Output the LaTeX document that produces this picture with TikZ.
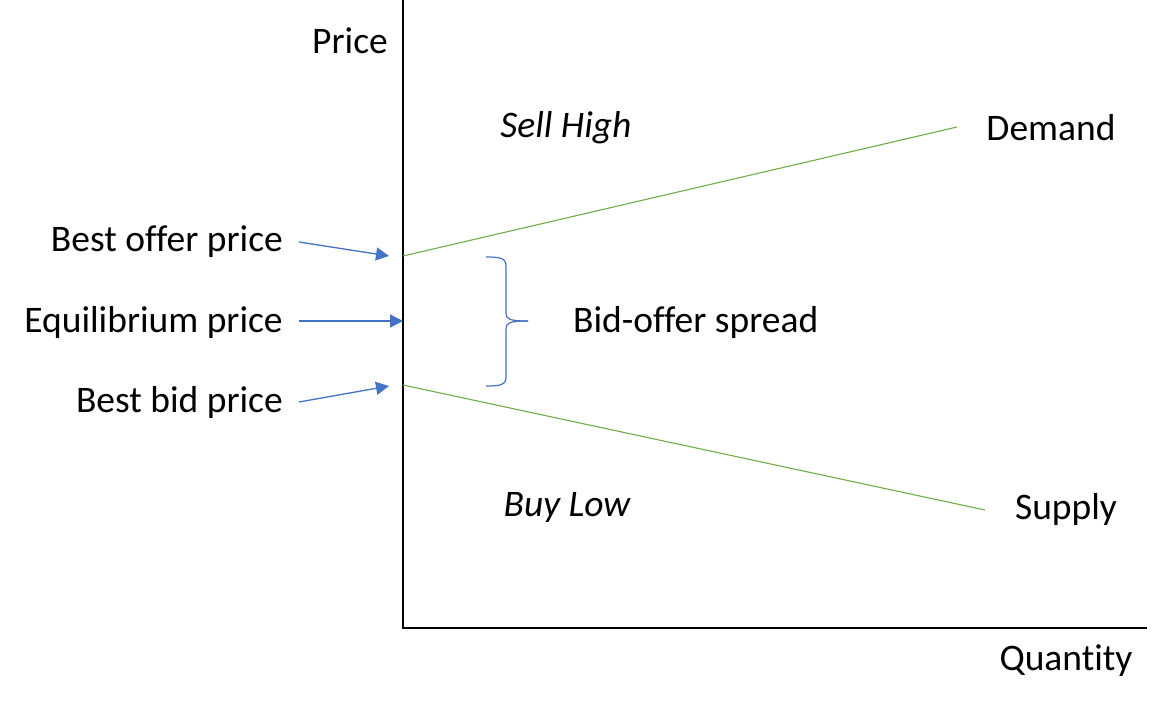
\documentclass[tikz,border=0pt]{standalone}
\usepackage{fontspec}
\setmainfont{Carlito}[Ligatures=NoCommon]
\usetikzlibrary{arrows.meta}
\definecolor{lgreen}{HTML}{70AD47}
\definecolor{lblue}{HTML}{4472C4}
\tikzset{
  lbl/.style={font=\fontsize{37.5}{45}\selectfont, inner sep=0pt},
  ilbl/.style={font=\fontsize{37.5}{45}\selectfont\itshape, inner sep=0pt},
  axis/.style={line width=2.6pt, black},
  curve/.style={line width=1.1pt, lgreen},
  ptr/.style={line width=1.3pt, lblue, -{Triangle[length=13pt,width=13pt]}},
  brc/.style={line width=1.2pt, lblue}
}
\begin{document}
\begin{tikzpicture}[x=1pt,y=-1pt]
\useasboundingbox (0,0) rectangle (1155,705);
% axes
\coordinate (top) at (403,0);
\coordinate (origin) at (403,628);
\coordinate (xend) at (1147,628);
\draw[axis] (top) -- (origin) -- (xend);
% labels
\node[lbl] (price) at (350,41) {Price};
\node[lbl] (quantity) at (1066,661) {Quantity};
\node[ilbl] (sell) at (566,128) {Sell High};
\node[ilbl] (buy) at (567,507) {Buy Low};
\node[lbl] (demand) at (1051,128) {Demand};
\node[lbl] (supply) at (1066,509) {Supply};
\node[lbl,anchor=east] (offer) at (283,242) {Best offer price};
\node[lbl,anchor=east] (equil) at (283,322) {Equilibrium price};
\node[lbl,anchor=east] (bid) at (283,402) {Best bid price};
\node[lbl,anchor=west] (spread) at (573,322) {Bid-offer spread};
% curve end points
\coordinate (pOffer) at (403,256);
\coordinate (pBid) at (403,385);
\coordinate (dEnd) at (957,127);
\coordinate (sEnd) at (985,510);
\draw[curve] (pOffer) -- (dEnd);
\draw[curve] (pBid) -- (sEnd);
% arrows
\coordinate (aOfferS) at (299,242);
\coordinate (aOfferE) at (389,256);
\coordinate (aEqS) at (299,321);
\coordinate (aEqE) at (403,321);
\coordinate (aBidS) at (299,402);
\coordinate (aBidE) at (389,386);
\draw[ptr] (aOfferS) -- (aOfferE);
\draw[ptr] (aEqS) -- (aEqE);
\draw[ptr] (aBidS) -- (aBidE);
% brace
\coordinate (bTop) at (486,257);
\coordinate (bTip) at (528,321);
\coordinate (bBot) at (486,386);
\draw[brc] (bTop) .. controls (500,257) and (506,258) .. (506,266)
  -- (506,313) .. controls (506,319) and (509,321) .. (bTip);
\draw[brc] (bBot) .. controls (500,386) and (506,385) .. (506,377)
  -- (506,329) .. controls (506,323) and (509,321) .. (bTip);
\end{tikzpicture}
\end{document}
